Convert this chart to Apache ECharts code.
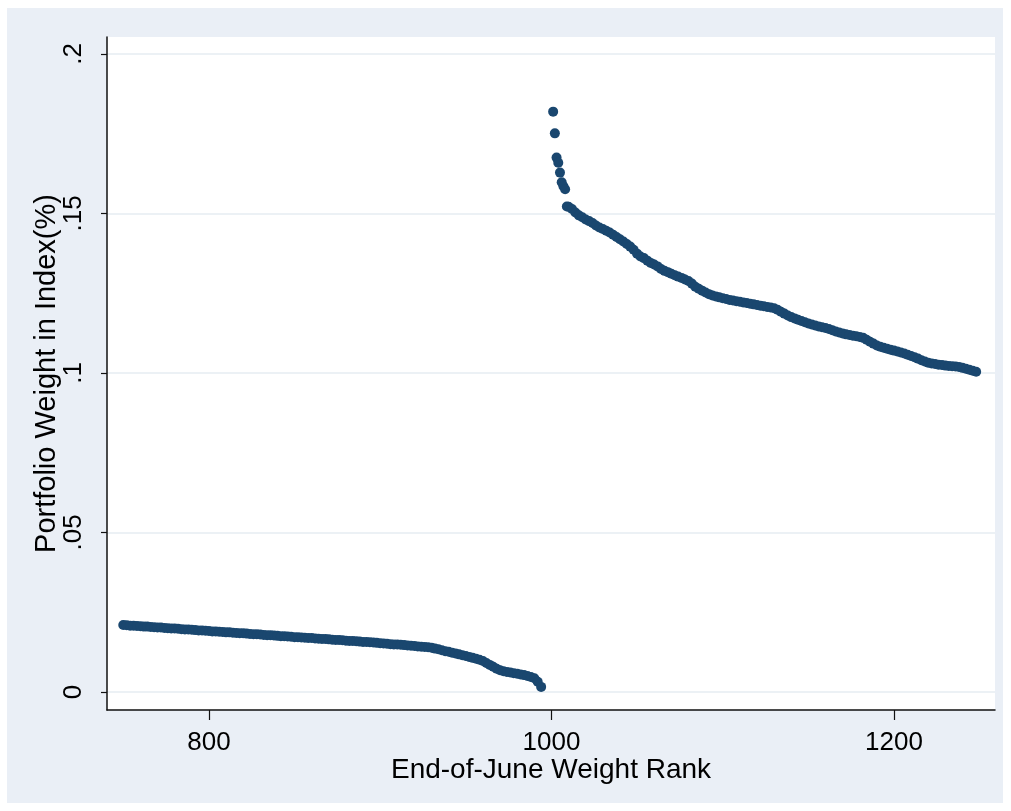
<!DOCTYPE html>
<html>
<head>
<meta charset="utf-8">
<script src="https://cdn.jsdelivr.net/npm/echarts@6/dist/echarts.min.js"></script>
<style>
html,body{margin:0;padding:0;background:#ffffff;}
#chart{position:absolute;left:7px;top:8px;width:996px;height:795px;}
</style>
</head>
<body>
<div id="chart"></div>
<script>
// ---- data ----
const xTicks = [800, 1000, 1200];
const xTickLabels = ['800', '1000', '1200'];
const yTicks = [0, 0.05, 0.1, 0.15, 0.2];
const yTickLabels = ['0', '.05', '.1', '.15', '.2'];

const lowRank = [750,752,754,756,758,760,762,764,766,768,770,772,774,776,778,780,782,784,786,788,790,792,794,796,798,
800,802,804,806,808,810,812,814,816,818,820,822,824,826,828,830,832,834,836,838,840,842,844,846,848,
850,852,854,856,858,860,862,864,866,868,870,872,874,876,878,880,882,884,886,888,890,892,894,896,898,
900,902,904,906,908,910,912,914,916,918,920,922,924,926,928,930,932,934,936,938,940,942,944,946,948,
950,952,954,956,958,960,962,964,966,968,970,972,974,976,978,980,982,984,986,988,990,992,994];
const lowWeight = [.0210,.0209,.0208,.0208,.0207,.0206,.0205,.0205,.0204,.0203,.0202,.0202,.0201,.0200,.0199,.0199,.0198,.0197,.0196,.0196,.0195,.0194,.0193,.0193,.0192,
.0191,.0190,.0190,.0189,.0188,.0187,.0187,.0186,.0185,.0184,.0184,.0183,.0182,.0181,.0181,.0180,.0179,.0178,.0178,.0177,.0176,.0175,.0175,.0174,.0173,
.0172,.0172,.0171,.0170,.0169,.0169,.0168,.0167,.0166,.0166,.0165,.0164,.0163,.0163,.0162,.0161,.0160,.0160,.0159,.0158,.0157,.0157,.0156,.0155,.0154,
.0153,.0152,.0151,.0150,.0149,.0149,.0148,.0147,.0146,.0145,.0144,.0143,.0142,.0141,.0140,.0139,.0136,.0134,.0131,.0128,.0126,.0123,.0121,.0118,.0115,
.0113,.0110,.0107,.0104,.0101,.0097,.0091,.0085,.0079,.0073,.0068,.0065,.0063,.0061,.0059,.0057,.0055,.0053,.0050,.0047,.0043,.0032,.0016];

const highRank = [1001,1002,1003,1004,1005,1006,1007,1008,1009,1010,
1012,1014,1016,1018,1020,1022,1024,1026,1028,1030,1032,1034,1036,1038,1040,1042,1044,1046,1048,1050,
1052,1054,1056,1058,1060,1062,1064,1066,1068,1070,1072,1074,1076,1078,1080,1082,1084,1086,1088,1090,
1092,1094,1096,1098,1100,1102,1104,1106,1108,1110,1112,1114,1116,1118,1120,1122,1124,1126,1128,1130,
1132,1134,1136,1138,1140,1142,1144,1146,1148,1150,1152,1154,1156,1158,1160,1162,1164,1166,1168,1170,
1172,1174,1176,1178,1180,1182,1184,1186,1188,1190,1192,1194,1196,1198,1200,1202,1204,1206,1208,1210,
1212,1214,1216,1218,1220,1222,1224,1226,1228,1230,1232,1234,1236,1238,1240,1242,1244,1246,1248];
const highWeight = [.1819,.1751,.1675,.1659,.1628,.1598,.1585,.1576,.1522,.1521,
.1514,.1503,.1494,.1488,.1481,.1476,.1470,.1462,.1456,.1451,.1446,.1440,.1433,.1426,.1419,.1412,.1404,.1396,.1386,.1374,
.1365,.1360,.1352,.1345,.1340,.1334,.1326,.1320,.1316,.1311,.1306,.1302,.1298,.1293,.1288,.1280,.1270,.1264,.1258,.1252,
.1247,.1243,.1240,.1237,.1234,.1232,.1229,.1227,.1225,.1223,.1221,.1219,.1217,.1215,.1213,.1211,.1209,.1207,.1205,.1203,
.1198,.1192,.1186,.1180,.1175,.1171,.1167,.1163,.1159,.1155,.1152,.1149,.1146,.1143,.1141,.1138,.1134,.1130,.1127,.1124,
.1121,.1119,.1117,.1115,.1113,.1110,.1104,.1098,.1092,.1086,.1082,.1079,.1076,.1073,.1070,.1067,.1064,.1061,.1057,.1053,
.1049,.1045,.1040,.1036,.1032,.1030,.1028,.1026,.1025,.1023,.1022,.1021,.1020,.1019,.1016,.1013,.1010,.1007,.1004];

const xTitle = 'End-of-June Weight Rank';
const yTitle = 'Portfolio Weight in Index(%)';

// ---- chart ----
const FONT = '"Liberation Sans", Arial, sans-serif';
const MARK = '#1a476f';
const chart = echarts.init(document.getElementById('chart'), null, {renderer: 'canvas'});
const pairs = (xs, ys) => xs.map((x, i) => [x, ys[i]]);
const pick = (ticks, labels) => v => { const i = ticks.findIndex(t => Math.abs(t - v) < 1e-9); return i >= 0 ? labels[i] : ''; };

chart.setOption({
  backgroundColor: '#eaeff6',
  animation: false,
  grid: {
    left: 100, top: 29, right: 8, bottom: 93,
    show: true, backgroundColor: '#ffffff', borderWidth: 0,
    containLabel: false
  },
  xAxis: {
    type: 'value', min: 740.5, max: 1259,
    name: xTitle, nameLocation: 'middle', nameGap: 46, nameMoveOverlap: false,
    nameTextStyle: {fontFamily: FONT, fontSize: 28, color: '#000'},
    axisLine: {show: true, onZero: false, lineStyle: {color: '#111', width: 1.5}},
    axisTick: {show: true, length: 10, customValues: xTicks, lineStyle: {color: '#111', width: 1.2}},
    axisLabel: {customValues: xTicks, formatter: pick(xTicks, xTickLabels), margin: 20, fontFamily: FONT, fontSize: 26, color: '#000'},
    splitLine: {show: false}
  },
  yAxis: {
    type: 'value', min: -0.00564, max: 0.2053,
    name: yTitle, nameLocation: 'middle', nameGap: 46, nameRotate: 90, nameMoveOverlap: false,
    nameTextStyle: {fontFamily: FONT, fontSize: 29, color: '#000'},
    axisLine: {show: true, onZero: false, lineStyle: {color: '#111', width: 1.5}},
    axisTick: {show: true, length: 6, customValues: yTicks, lineStyle: {color: '#111', width: 1.2}},
    axisLabel: {
      customValues: yTicks, rotate: 90, margin: 20, fontFamily: FONT, fontSize: 26, color: '#000',
      formatter: pick(yTicks, yTickLabels)
    },
    splitLine: {show: true, lineStyle: {color: '#e6ecf2', width: 1.5}}
  },
  series: [
    {type: 'scatter', data: pairs(lowRank, lowWeight), symbol: 'circle', symbolSize: 10,
     itemStyle: {color: MARK, opacity: 1}},
    {type: 'scatter', data: pairs(highRank, highWeight), symbol: 'circle', symbolSize: 10,
     itemStyle: {color: MARK, opacity: 1}}
  ]
});
</script>
</body>
</html>
